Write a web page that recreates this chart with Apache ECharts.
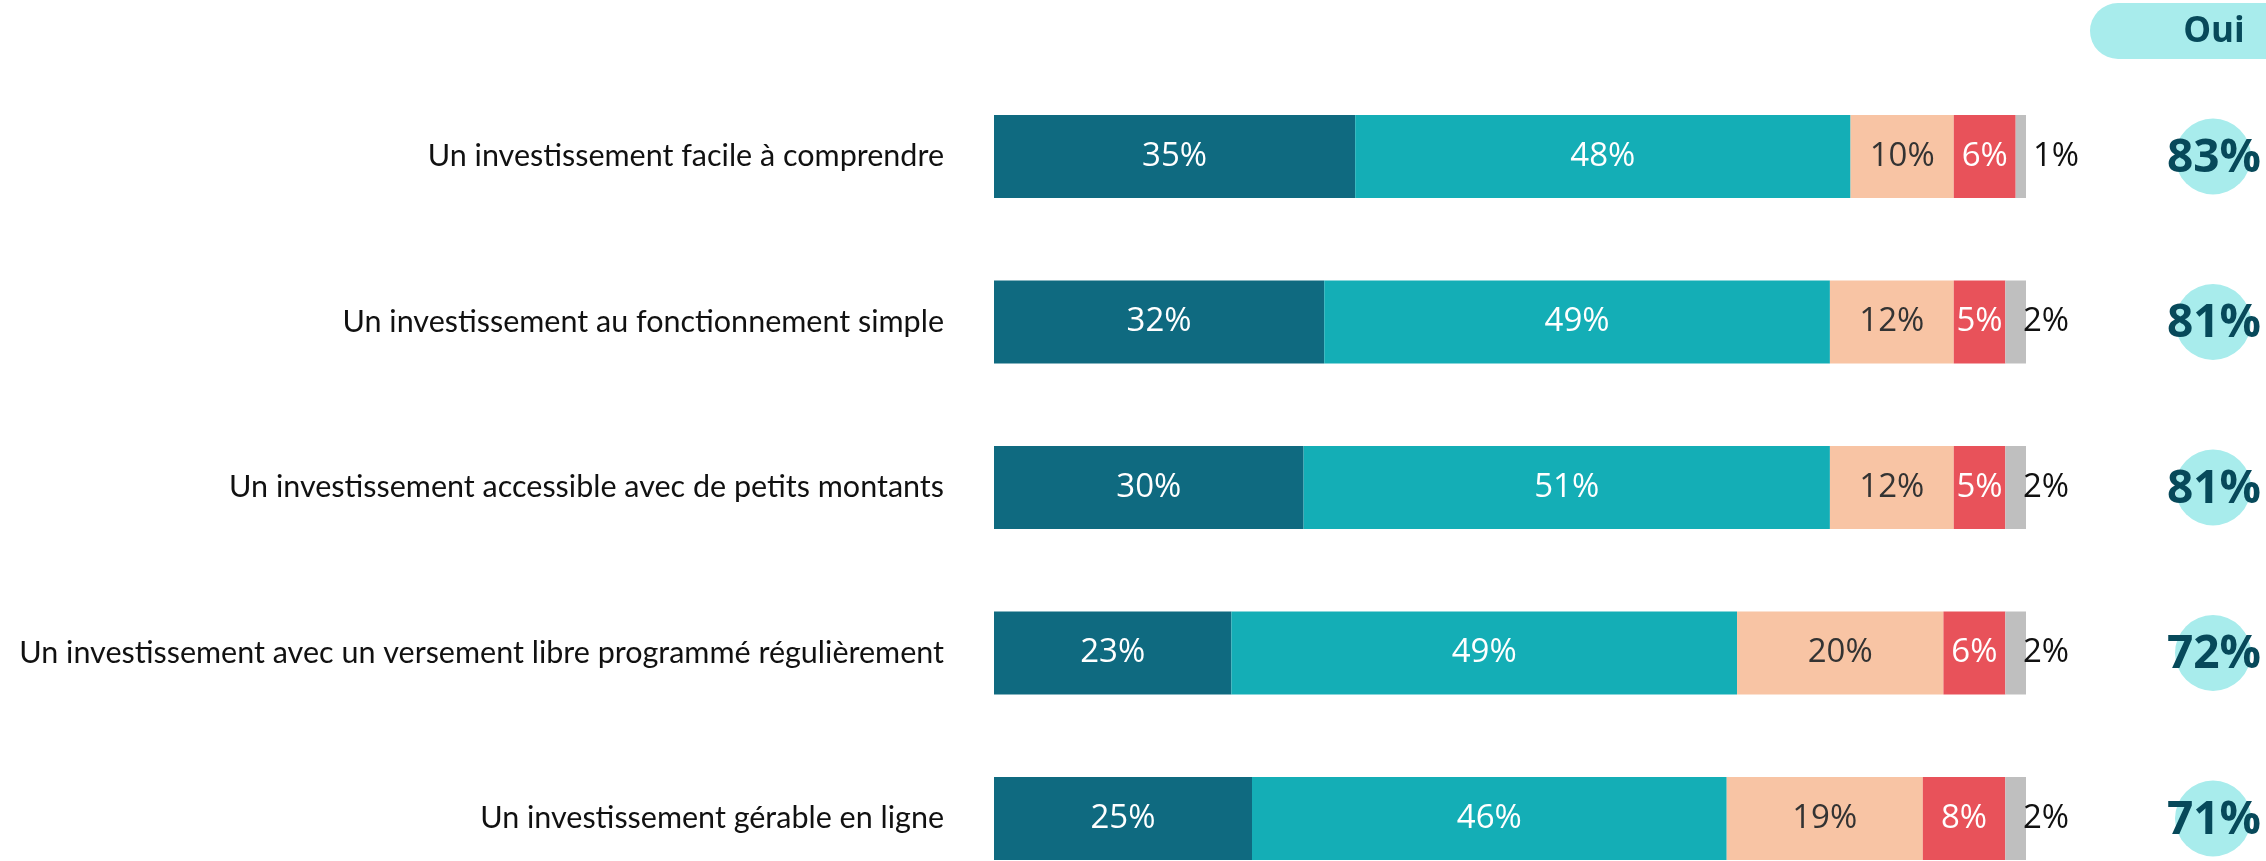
<!DOCTYPE html>
<html>
<head>
<meta charset="utf-8">
<script src="https://cdn.jsdelivr.net/npm/echarts@6/dist/echarts.min.js"></script>
<style>
  html, body { margin: 0; padding: 0; background: #fff; }
  #main { width: 2266px; height: 861px; }
</style>
</head>
<body>
<div id="main"></div>
<script>
const categories = [
  "Un investissement facile à comprendre",
  "Un investissement au fonctionnement simple",
  "Un investissement accessible avec de petits montants",
  "Un investissement avec un versement libre programmé régulièrement",
  "Un investissement gérable en ligne"
];
const toutAFait = [35, 32, 30, 23, 25];
const plutot = [48, 49, 51, 49, 46];
const plutotPas = [10, 12, 12, 20, 19];
const pasDuTout = [6, 5, 5, 6, 8];
const nsp = [1, 2, 2, 2, 2];
const oui = [83, 81, 81, 72, 71];

window.onload = function () {
  const myChart = echarts.init(document.getElementById("main"));

  const numFont = "'Open Sans', sans-serif";

  function seg(name, data, color, labelColor) {
    return {
      name: name,
      type: "bar",
      stack: "total",
      barWidth: 83,
      clip: false,
      data: data,
      itemStyle: { color: color },
      label: {
        show: true,
        position: "inside",
        formatter: "{c}%",
        color: labelColor,
        fontFamily: numFont,
        fontSize: 33
      }
    };
  }

  // the 1% label sits a bit further out than the 2% ones
  const nspSeries = seg("Ne se prononce pas", nsp.map(v => v < 2 ? { value: v, label: { offset: [7, 0] } } : v), "#bfbfbf", "#111111");
  nspSeries.label.position = "right";
  nspSeries.label.distance = 0;
  nspSeries.label.offset = [-3, 0];

  // categories sit on the ticks so the grid can end at the last bar centre
  const options = {
    animation: false,
    grid: [
      { left: 994, width: 1032, top: 156.5, height: 662 },
      { left: 2163, width: 100, top: 156.5, height: 662 }
    ],
    xAxis: [
      { type: "value", min: 0, max: 100, show: false, gridIndex: 0 },
      { type: "value", min: 0, max: 1, show: false, gridIndex: 1 }
    ],
    yAxis: [
      {
        type: "category",
        data: categories,
        inverse: true,
        boundaryGap: false,
        gridIndex: 0,
        axisLine: { show: false },
        axisTick: { show: false },
        splitLine: { show: false },
        axisLabel: {
          margin: 50,
          color: "#111111",
          fontFamily: "Lato, sans-serif",
          fontSize: 30.5
        }
      },
      {
        type: "category",
        data: categories,
        inverse: true,
        boundaryGap: false,
        gridIndex: 1,
        show: false
      }
    ],
    graphic: [
      {
        type: "rect",
        shape: { x: 2090, y: 3, width: 230, height: 56, r: 28 },
        style: { fill: "#a8ecec" }
      },
      {
        type: "text",
        x: 2214,
        y: 32,
        style: {
          text: "Oui",
          align: "center",
          verticalAlign: "middle",
          font: "bold 35px 'Open Sans', sans-serif",
          fill: "#07495a"
        }
      }
    ],
    series: [
      seg("Oui, tout à fait", toutAFait, "#0f6a80", "#ffffff"),
      seg("Oui, plutôt", plutot, "#14aeb6", "#ffffff"),
      seg("Non, plutôt pas", plutotPas, "#f8c4a4", "#333333"),
      seg("Non, pas du tout", pasDuTout, "#e8525a", "#ffffff"),
      nspSeries,
      {
        name: "Oui",
        type: "scatter",
        xAxisIndex: 1,
        yAxisIndex: 1,
        clip: false,
        symbolSize: 76,
        itemStyle: { color: "#a8ecec", opacity: 1 },
        data: oui.map((v, i) => [0.5, categories[i], v]),
        label: {
          show: true,
          position: "inside",
          offset: [1, 2],
          formatter: p => p.value[2] + "%",
          color: "#07495a",
          opacity: 1,
          fontFamily: numFont,
          fontWeight: "bold",
          fontSize: 46
        }
      }
    ]
  };

  myChart.setOption(options);
};
</script>
</body>
</html>
